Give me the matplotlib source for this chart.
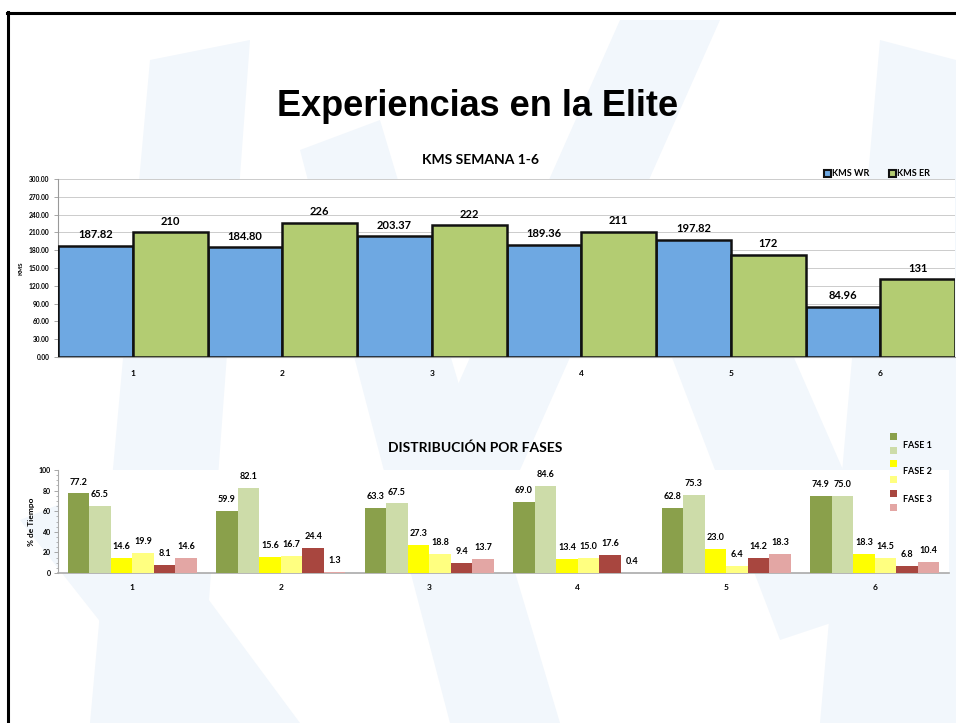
import matplotlib.pyplot as plt
import numpy as np
from matplotlib.patches import Patch, Polygon, Rectangle
from matplotlib.lines import Line2D

# Weekly kilometres
semanas = ['1', '2', '3', '4', '5', '6']
kms_wr = [187.82, 184.80, 203.37, 189.36, 197.82, 84.96]
kms_er = [210, 226, 222, 211, 172, 131]

# Time share per phase (two bars per phase)
fase1_a = [77.2, 59.9, 63.3, 69.0, 62.8, 74.9]
fase1_b = [65.5, 82.1, 67.5, 84.6, 75.3, 75.0]
fase2_a = [14.6, 15.6, 27.3, 13.4, 23.0, 18.3]
fase2_b = [19.9, 16.7, 18.8, 15.0, 6.4, 14.5]
fase3_a = [8.1, 24.4, 9.4, 17.6, 14.2, 6.8]
fase3_b = [14.6, 1.3, 13.7, 0.4, 18.3, 10.4]

W, H = 956, 723
plt.rcParams['font.family'] = ['Lato', 'DejaVu Sans']
fig = plt.figure(figsize=(W / 100, H / 100), dpi=100)

def fx(px):
    return px / W

def fy(py):
    return 1 - py / H

# faint watermark shapes in the background
wm = '#f2f7fc'
shapes = [
    [(150, 60), (250, 40), (200, 723), (90, 723)],
    [(300, 150), (380, 120), (560, 723), (450, 723)],
    [(620, 20), (720, 20), (480, 560), (380, 560)],
    [(880, 40), (956, 60), (956, 723), (820, 723)],
    [(20, 520), (120, 480), (300, 723), (180, 723)],
    [(650, 300), (760, 280), (900, 600), (780, 640)],
]
for s in shapes:
    fig.add_artist(Polygon([(fx(x), fy(y)) for x, y in s], closed=True,
                           transform=fig.transFigure, facecolor=wm,
                           edgecolor='none', zorder=0))

# slide frame
fig.add_artist(Line2D([fx(7), 1], [fy(12.5), fy(12.5)], color='black', lw=2.2,
                      transform=fig.transFigure))
fig.add_artist(Line2D([fx(7.5), fx(7.5)], [fy(12), 0], color='black', lw=2.2,
                      transform=fig.transFigure))

fig.text(fx(478), fy(106), 'Experiencias en la Elite', family='Liberation Sans',
         fontsize=26, fontweight='bold', ha='center', va='center')

# ---- KMS SEMANA chart ----
x = np.arange(1, len(semanas) + 1)
ax1 = fig.add_axes([fx(58), fy(357), fx(955 - 58), (357 - 179) / H])
ax1.set_facecolor('white')
blue, green = '#6ea8e2', '#b3cc72'
ax1.bar(x - 0.25, kms_wr, width=0.5, color=blue, edgecolor='#111111',
        linewidth=1.8, zorder=3)
ax1.bar(x + 0.25, kms_er, width=0.5, color=green, edgecolor='#111111',
        linewidth=1.8, zorder=3)
for xi, v in zip(x, kms_wr):
    ax1.annotate(f'{v:.2f}', (xi - 0.25, v), xytext=(0, 4), textcoords='offset points',
                 ha='center', va='bottom', fontsize=8, fontweight='bold')
for xi, v in zip(x, kms_er):
    ax1.annotate(f'{v:d}', (xi + 0.25, v), xytext=(0, 4), textcoords='offset points',
                 ha='center', va='bottom', fontsize=8, fontweight='bold')
ax1.set_xlim(0.5, 6.5)
ax1.set_ylim(0, 300)
ax1.set_yticks(np.arange(0, 301, 30))
ax1.set_yticklabels([f'{v:.2f}' for v in np.arange(0, 301, 30)], fontsize=4.8,
                    fontweight='bold')
ax1.set_xticks(x)
ax1.set_xticklabels(semanas, fontsize=6, fontweight='bold')
ax1.tick_params(axis='x', length=0, pad=9)
ax1.tick_params(axis='y', length=3, width=0.6, color='#999999', pad=3)
ax1.grid(axis='y', color='#cccccc', linewidth=0.7, zorder=0)
for side in ['top', 'right']:
    ax1.spines[side].set_visible(False)
ax1.spines['left'].set_color('#999999')
ax1.spines['bottom'].set_color('#999999')
ax1.set_ylabel('KMS', fontsize=4.5, fontweight='bold', labelpad=4)
fig.text(fx(480), fy(160), 'KMS SEMANA 1-6', fontsize=10, fontweight='bold',
         ha='center', va='center')
fig.legend(handles=[Patch(facecolor=blue, edgecolor='#111111', lw=1.5, label='KMS WR'),
                    Patch(facecolor=green, edgecolor='#111111', lw=1.5, label='KMS ER')],
           loc='center', bbox_to_anchor=(fx(877), fy(174)), ncol=2, frameon=False,
           prop={'size': 6.5, 'weight': 'bold'}, handlelength=0.8, handleheight=0.8,
           handletextpad=0.1, columnspacing=2.2)

# ---- DISTRIBUCIÓN POR FASES chart ----
series = [fase1_a, fase1_b, fase2_a, fase2_b, fase3_a, fase3_b]
colors = ['#8aa04b', '#cddca9', '#ffff00', '#ffff80', '#a8463f', '#e3a6a4']
ax2 = fig.add_axes([fx(58), fy(573), fx(949 - 58), (573 - 470) / H])
ax2.set_facecolor('white')
bw = 0.145
offsets = (np.arange(6) - 2.5) * bw
for vals, col, off in zip(series, colors, offsets):
    ax2.bar(x + off, vals, width=bw, color=col, zorder=3)
    for xi, v in zip(x, vals):
        ax2.annotate(f'{v:.1f}', (xi + off, v), xytext=(0, 5), textcoords='offset points',
                     ha='center', va='bottom', fontsize=6.5, fontweight='bold')
ax2.set_xlim(0.5, 6.5)
ax2.set_ylim(0, 100)
ax2.set_yticks(np.arange(0, 101, 20))
ax2.set_yticks(np.arange(0, 101, 5), minor=True)
ax2.tick_params(axis='y', which='major', labelsize=5, length=3, width=0.6,
                color='#999999', pad=2)
ax2.tick_params(axis='y', which='minor', length=1.5, width=0.5, color='#999999')
for lab in ax2.get_yticklabels():
    lab.set_fontweight('bold')
ax2.set_xticks(x)
ax2.set_xticklabels(semanas, fontsize=6, fontweight='bold')
ax2.tick_params(axis='x', length=0, pad=8)
for side in ['top', 'right']:
    ax2.spines[side].set_visible(False)
ax2.spines['left'].set_color('#aaaaaa')
ax2.spines['bottom'].set_color('#aaaaaa')
ax2.spines['bottom'].set_linewidth(1.2)
ax2.set_ylabel('% de Tiempo', fontsize=6, fontweight='bold', labelpad=3)
fig.text(fx(475), fy(448), 'DISTRIBUCIÓN POR FASES', fontsize=10, fontweight='bold',
         ha='center', va='center')

# phase legend: six swatches, one label per pair
sw_y = [437, 450, 463, 479, 493, 507]
for col, yy in zip(colors, sw_y):
    fig.add_artist(Rectangle((fx(890), fy(yy + 3.5)), fx(7), 7 / H, facecolor=col,
                             edgecolor='none', transform=fig.transFigure))
for lab, yy in zip(['FASE 1', 'FASE 2', 'FASE 3'], [445, 472, 499]):
    fig.text(fx(903), fy(yy), lab, fontsize=6.5, fontweight='bold', va='center')

fig.savefig('out.png', dpi=100)
